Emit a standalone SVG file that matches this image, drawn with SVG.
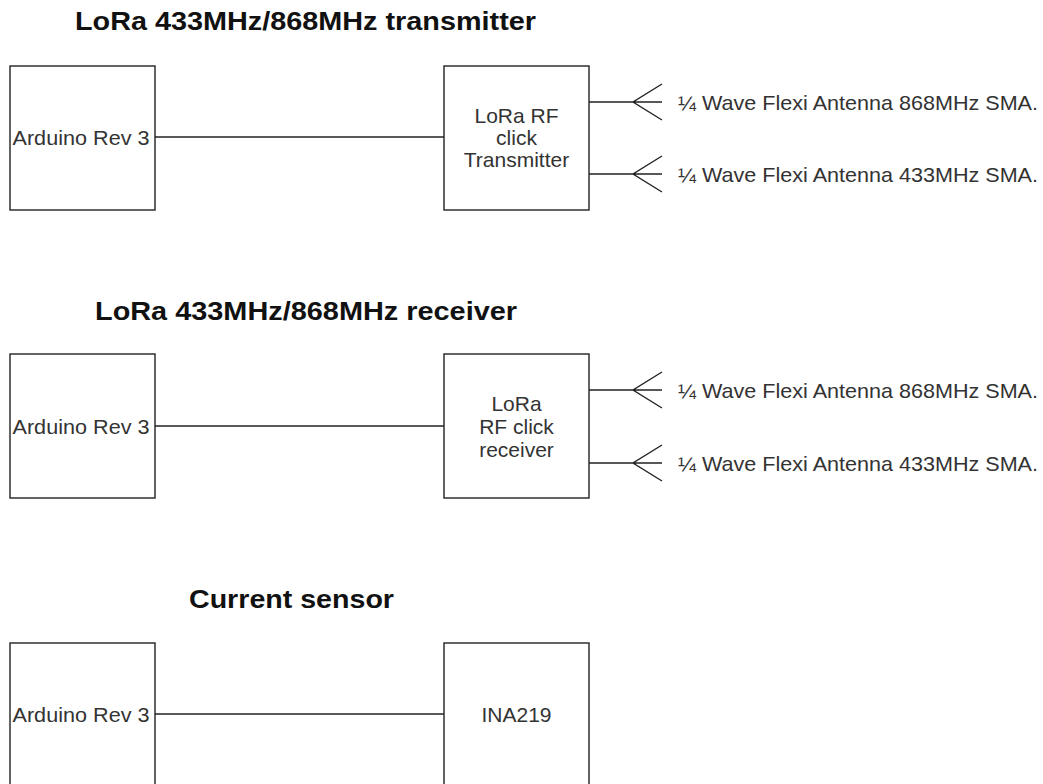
<svg xmlns="http://www.w3.org/2000/svg" width="1043" height="784" viewBox="0 0 1043 784">
<style>
.box{fill:#fff;stroke:#222;stroke-width:1.4}
.ln{fill:none;stroke:#222;stroke-width:1.4}
.t{font-family:"Liberation Sans",Arial,sans-serif;font-size:21px;fill:#333}
.c{text-anchor:middle}
.h{font-family:"Liberation Sans",Arial,sans-serif;font-size:26px;font-weight:bold;fill:#111}
</style>
<rect width="1043" height="784" fill="#fff"/>
<g id="titles">
<text class="h" x="75" y="30" textLength="461" lengthAdjust="spacingAndGlyphs">LoRa 433MHz/868MHz transmitter</text>
<text class="h" x="95" y="320" textLength="422" lengthAdjust="spacingAndGlyphs">LoRa 433MHz/868MHz receiver</text>
<text class="h" x="189" y="608" textLength="205" lengthAdjust="spacingAndGlyphs">Current sensor</text>
</g>
<g id="connectors">
<line class="ln" x1="155" y1="137" x2="444" y2="137"/>
<path class="ln" d="M589 102H662M662 84L633 102L662 120"/>
<path class="ln" d="M589 174H662M662 156L633 174L662 192"/>
<line class="ln" x1="155" y1="426" x2="444" y2="426"/>
<path class="ln" d="M589 390H662M662 372L633 390L662 408"/>
<path class="ln" d="M589 463H662M662 445L633 463L662 481"/>
<line class="ln" x1="155" y1="714" x2="444" y2="714"/>
</g>
<g id="tx-arduino">
<rect class="box" x="10" y="66" width="145" height="144"/>
<text class="t" x="12.5" y="144.5" textLength="137" lengthAdjust="spacingAndGlyphs">Arduino Rev 3</text>
</g>
<g id="tx-lora">
<rect class="box" x="444" y="66" width="145" height="144"/>
<text class="t c" x="516.5" y="123">LoRa RF</text>
<text class="t c" x="516.5" y="145">click</text>
<text class="t c" x="516.5" y="167">Transmitter</text>
</g>
<g id="tx-ant868">
<text class="t" x="678" y="109.5" textLength="360" lengthAdjust="spacingAndGlyphs">¼ Wave Flexi Antenna 868MHz SMA.</text>
</g>
<g id="tx-ant433">
<text class="t" x="678" y="181.5" textLength="360" lengthAdjust="spacingAndGlyphs">¼ Wave Flexi Antenna 433MHz SMA.</text>
</g>
<g id="rx-arduino">
<rect class="box" x="10" y="354" width="145" height="144"/>
<text class="t" x="12.5" y="433.5" textLength="137" lengthAdjust="spacingAndGlyphs">Arduino Rev 3</text>
</g>
<g id="rx-lora">
<rect class="box" x="444" y="354" width="145" height="144"/>
<text class="t c" x="516.5" y="411">LoRa</text>
<text class="t c" x="516.5" y="434">RF click</text>
<text class="t c" x="516.5" y="457">receiver</text>
</g>
<g id="rx-ant868">
<text class="t" x="678" y="397.5" textLength="360" lengthAdjust="spacingAndGlyphs">¼ Wave Flexi Antenna 868MHz SMA.</text>
</g>
<g id="rx-ant433">
<text class="t" x="678" y="470.5" textLength="360" lengthAdjust="spacingAndGlyphs">¼ Wave Flexi Antenna 433MHz SMA.</text>
</g>
<g id="cs-arduino">
<rect class="box" x="10" y="643" width="145" height="160"/>
<text class="t" x="12.5" y="721.5" textLength="137" lengthAdjust="spacingAndGlyphs">Arduino Rev 3</text>
</g>
<g id="cs-ina219">
<rect class="box" x="444" y="643" width="145" height="160"/>
<text class="t c" x="516.5" y="722">INA219</text>
</g>
</svg>
